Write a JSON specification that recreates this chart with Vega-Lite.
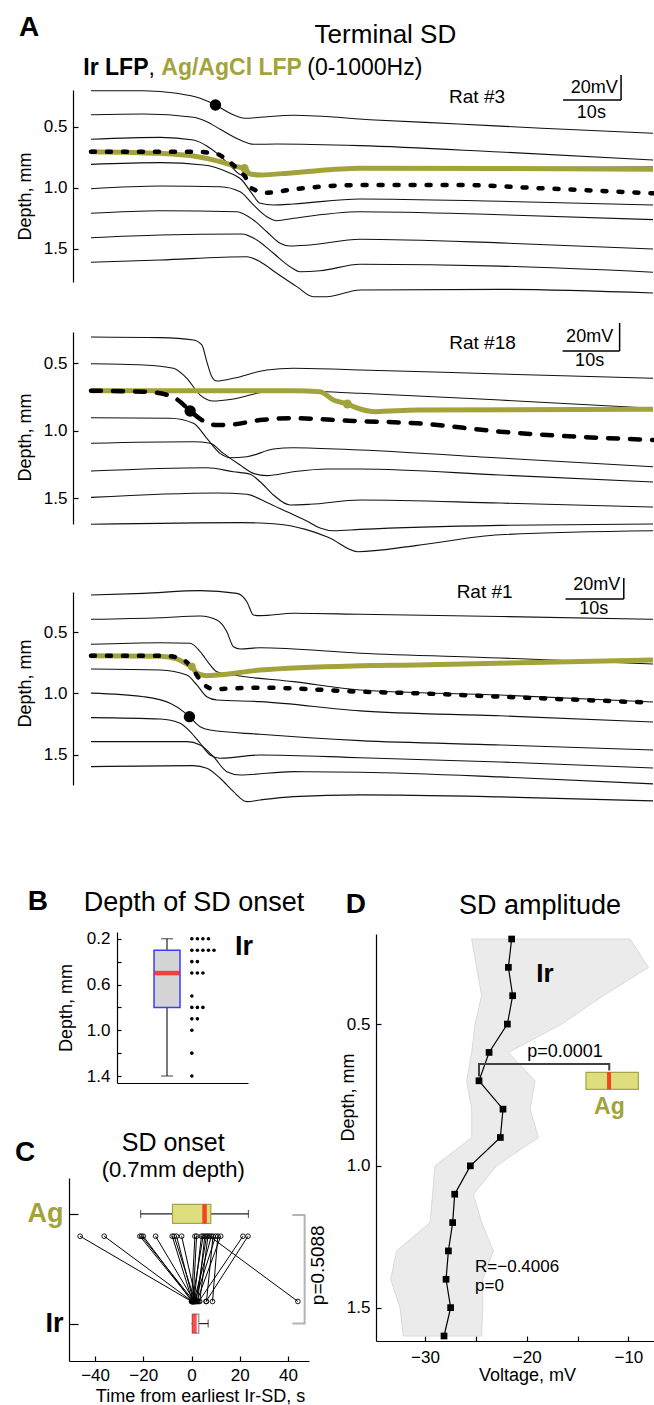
{
"$schema": "https://vega.github.io/schema/vega-lite/v6.json",
"padding": 0,
"bounds": "flush",
"spacing": 0,
"config": {
  "font": "Liberation Sans",
  "view": {"stroke": null},
  "concat": {"spacing": 0},
  "axis": {"labelFont": "Liberation Sans", "titleFont": "Liberation Sans", "labelFontSize": 17, "titleFontSize": 18, "titleFontWeight": "normal", "labelColor": "black", "titleColor": "black", "domainColor": "black", "tickColor": "black", "grid": false, "domainWidth": 1.2, "tickWidth": 1.2, "tickSize": -5, "labelPadding": 11, "labelFlush": false, "labelOverlap": false},
  "text": {"font": "Liberation Sans", "color": "black"}
},
"datasets": {
  "a1": [
    {"id":"0.2","t":0,"d":0.206},{"id":"0.2","t":9.05,"d":0.206},{"id":"0.2","t":14.81,"d":0.227},{"id":"0.2","t":18.83,"d":0.268},{"id":"0.2","t":21.47,"d":0.323},{"id":"0.2","t":24.0,"d":0.391},{"id":"0.2","t":26.59,"d":0.431},{"id":"0.2","t":29.17,"d":0.423},{"id":"0.2","t":34.91,"d":0.407},{"id":"0.2","t":49.0,"d":0.445},{"id":"0.2","t":63.31,"d":0.478},{"id":"0.2","t":77.74,"d":0.513},{"id":"0.2","t":96.93,"d":0.554},
    {"id":"0.4","t":0,"d":0.402},{"id":"0.4","t":9.05,"d":0.396},{"id":"0.4","t":17.67,"d":0.423},{"id":"0.4","t":19.98,"d":0.459},{"id":"0.4","t":22.28,"d":0.521},{"id":"0.4","t":25.72,"d":0.609},{"id":"0.4","t":28.02,"d":0.644},{"id":"0.4","t":32.05,"d":0.642},{"id":"0.4","t":46.41,"d":0.655},{"id":"0.4","t":70.55,"d":0.707},{"id":"0.4","t":96.93,"d":0.772},
    {"id":"0.6","t":0,"d":0.603},{"id":"0.6","t":11.93,"d":0.587},{"id":"0.6","t":17.67,"d":0.609},{"id":"0.6","t":19.98,"d":0.658},{"id":"0.6","t":22.28,"d":0.74},{"id":"0.6","t":24.29,"d":0.832},{"id":"0.6","t":26.02,"d":0.895},{"id":"0.6","t":29.17,"d":0.887},{"id":"0.6","t":46.41,"d":0.838},{"id":"0.6","t":96.93,"d":0.83},
    {"id":"0.8","t":0,"d":0.808},{"id":"0.8","t":11.93,"d":0.794},{"id":"0.8","t":19.4,"d":0.813},{"id":"0.8","t":23.43,"d":0.868},{"id":"0.8","t":26.02,"d":0.936},{"id":"0.8","t":27.74,"d":1.045},{"id":"0.8","t":29.17,"d":1.126},{"id":"0.8","t":31.47,"d":1.14},{"id":"0.8","t":34.91,"d":1.132},{"id":"0.8","t":46.41,"d":1.091},{"id":"0.8","t":70.55,"d":1.11},{"id":"0.8","t":96.93,"d":1.14},
    {"id":"1.0","t":0,"d":1.007},{"id":"1.0","t":11.93,"d":0.985},{"id":"1.0","t":22.28,"d":0.991},{"id":"1.0","t":25.72,"d":1.032},{"id":"1.0","t":28.02,"d":1.14},{"id":"1.0","t":30.33,"d":1.236},{"id":"1.0","t":32.05,"d":1.269},{"id":"1.0","t":34.91,"d":1.249},{"id":"1.0","t":46.41,"d":1.195},{"id":"1.0","t":70.55,"d":1.22},{"id":"1.0","t":96.93,"d":1.26},
    {"id":"1.2","t":0,"d":1.208},{"id":"1.2","t":11.93,"d":1.187},{"id":"1.2","t":25.16,"d":1.195},{"id":"1.2","t":28.02,"d":1.263},{"id":"1.2","t":30.33,"d":1.359},{"id":"1.2","t":32.62,"d":1.453},{"id":"1.2","t":34.34,"d":1.476},{"id":"1.2","t":37.79,"d":1.467},{"id":"1.2","t":46.41,"d":1.421},{"id":"1.2","t":70.55,"d":1.45},{"id":"1.2","t":96.93,"d":1.5},
    {"id":"1.4","t":0,"d":1.408},{"id":"1.4","t":11.93,"d":1.386},{"id":"1.4","t":26.02,"d":1.377},{"id":"1.4","t":28.6,"d":1.426},{"id":"1.4","t":31.47,"d":1.535},{"id":"1.4","t":34.34,"d":1.645},{"id":"1.4","t":36.07,"d":1.686},{"id":"1.4","t":39.52,"d":1.678},{"id":"1.4","t":46.41,"d":1.625},{"id":"1.4","t":70.55,"d":1.64},{"id":"1.4","t":96.93,"d":1.69},
    {"id":"1.6","t":0,"d":1.609},{"id":"1.6","t":11.93,"d":1.59},{"id":"1.6","t":26.88,"d":1.563},{"id":"1.6","t":29.17,"d":1.604},{"id":"1.6","t":32.05,"d":1.699},{"id":"1.6","t":35.5,"d":1.808},{"id":"1.6","t":38.36,"d":1.89},{"id":"1.6","t":40.67,"d":1.89},{"id":"1.6","t":46.41,"d":1.835},{"id":"1.6","t":70.55,"d":1.83},{"id":"1.6","t":96.93,"d":1.86},
    {"id":"g","t":0,"d":0.704},{"id":"g","t":11.93,"d":0.718},{"id":"g","t":17.67,"d":0.74},{"id":"g","t":22.28,"d":0.786},{"id":"g","t":25.16,"d":0.827},{"id":"g","t":26.47,"d":0.84},{"id":"g","t":27.45,"d":0.887},{"id":"g","t":29.17,"d":0.895},{"id":"g","t":34.91,"d":0.876},{"id":"g","t":46.41,"d":0.84},{"id":"g","t":70.55,"d":0.842},{"id":"g","t":96.93,"d":0.848},
    {"id":"ir","t":0,"d":0.704},{"id":"ir","t":17.67,"d":0.704},{"id":"ir","t":21.71,"d":0.723},{"id":"ir","t":23.43,"d":0.772},{"id":"ir","t":25.16,"d":0.84},{"id":"ir","t":26.59,"d":0.909},{"id":"ir","t":27.74,"d":1.004},{"id":"ir","t":30.33,"d":1.04},{"id":"ir","t":34.91,"d":1.012},{"id":"ir","t":46.41,"d":0.977},{"id":"ir","t":63.31,"d":0.977},{"id":"ir","t":77.74,"d":1.004},{"id":"ir","t":96.93,"d":1.045}
  ],
  "a2": [
    {"id":"0.3","t":0,"d":0.305},{"id":"0.3","t":11.93,"d":0.31},{"id":"0.3","t":17.67,"d":0.327},{"id":"0.3","t":19.12,"d":0.364},{"id":"0.3","t":19.98,"d":0.488},{"id":"0.3","t":20.84,"d":0.599},{"id":"0.3","t":21.71,"d":0.631},{"id":"0.3","t":24.57,"d":0.611},{"id":"0.3","t":30.33,"d":0.549},{"id":"0.3","t":34.91,"d":0.537},{"id":"0.3","t":46.41,"d":0.549},{"id":"0.3","t":70.55,"d":0.579},{"id":"0.3","t":96.93,"d":0.611},
    {"id":"0.5","t":0,"d":0.503},{"id":"0.5","t":9.05,"d":0.512},{"id":"0.5","t":14.22,"d":0.537},{"id":"0.5","t":16.53,"d":0.611},{"id":"0.5","t":18.83,"d":0.735},{"id":"0.5","t":21.12,"d":0.779},{"id":"0.5","t":24.57,"d":0.764},{"id":"0.5","t":30.33,"d":0.71},{"id":"0.5","t":34.91,"d":0.705},{"id":"0.5","t":46.41,"d":0.722},{"id":"0.5","t":70.55,"d":0.772},{"id":"0.5","t":96.93,"d":0.833},
    {"id":"0.9","t":0,"d":0.903},{"id":"0.9","t":13.66,"d":0.907},{"id":"0.9","t":17.67,"d":0.944},{"id":"0.9","t":19.98,"d":1.055},{"id":"0.9","t":22.28,"d":1.167},{"id":"0.9","t":24.0,"d":1.199},{"id":"0.9","t":26.88,"d":1.192},{"id":"0.9","t":31.47,"d":1.135},{"id":"0.9","t":34.91,"d":1.125},{"id":"0.9","t":46.41,"d":1.142},{"id":"0.9","t":70.55,"d":1.201},{"id":"0.9","t":96.93,"d":1.266},
    {"id":"1.1","t":0,"d":1.092},{"id":"1.1","t":17.67,"d":1.081},{"id":"1.1","t":20.55,"d":1.092},{"id":"1.1","t":22.84,"d":1.167},{"id":"1.1","t":25.72,"d":1.253},{"id":"1.1","t":28.02,"d":1.315},{"id":"1.1","t":30.33,"d":1.332},{"id":"1.1","t":34.91,"d":1.303},{"id":"1.1","t":40.67,"d":1.283},{"id":"1.1","t":46.41,"d":1.283},{"id":"1.1","t":70.55,"d":1.327},{"id":"1.1","t":96.93,"d":1.379},
    {"id":"1.3","t":0,"d":1.298},{"id":"1.3","t":19.98,"d":1.273},{"id":"1.3","t":24.57,"d":1.303},{"id":"1.3","t":27.45,"d":1.322},{"id":"1.3","t":29.17,"d":1.377},{"id":"1.3","t":31.47,"d":1.475},{"id":"1.3","t":34.34,"d":1.549},{"id":"1.3","t":37.79,"d":1.544},{"id":"1.3","t":46.41,"d":1.512},{"id":"1.3","t":70.55,"d":1.535},{"id":"1.3","t":96.93,"d":1.564},
    {"id":"1.5","t":0,"d":1.493},{"id":"1.5","t":21.71,"d":1.46},{"id":"1.5","t":26.88,"d":1.47},{"id":"1.5","t":30.33,"d":1.53},{"id":"1.5","t":33.8,"d":1.6},{"id":"1.5","t":37.3,"d":1.67},{"id":"1.5","t":39.5,"d":1.72},{"id":"1.5","t":41.8,"d":1.74},{"id":"1.5","t":46.41,"d":1.73},{"id":"1.5","t":70.55,"d":1.7},{"id":"1.5","t":96.93,"d":1.69},
    {"id":"1.7","t":0,"d":1.692},{"id":"1.7","t":26.0,"d":1.68},{"id":"1.7","t":32.0,"d":1.69},{"id":"1.7","t":37.0,"d":1.73},{"id":"1.7","t":41.0,"d":1.79},{"id":"1.7","t":46.0,"d":1.895},{"id":"1.7","t":56.0,"d":1.85},{"id":"1.7","t":70.55,"d":1.77},{"id":"1.7","t":96.93,"d":1.74},
    {"id":"g","t":0,"d":0.703},{"id":"g","t":34.91,"d":0.703},{"id":"g","t":39.52,"d":0.71},{"id":"g","t":41.81,"d":0.772},{"id":"g","t":44.22,"d":0.801},{"id":"g","t":45.26,"d":0.821},{"id":"g","t":49.0,"d":0.858},{"id":"g","t":56.19,"d":0.846},{"id":"g","t":96.93,"d":0.841},
    {"id":"ir","t":0,"d":0.703},{"id":"ir","t":9.05,"d":0.71},{"id":"ir","t":13.66,"d":0.74},{"id":"ir","t":15.38,"d":0.784},{"id":"ir","t":17.1,"d":0.853},{"id":"ir","t":19.4,"d":0.927},{"id":"ir","t":21.71,"d":0.957},{"id":"ir","t":24.57,"d":0.952},{"id":"ir","t":29.17,"d":0.92},{"id":"ir","t":34.91,"d":0.907},{"id":"ir","t":45.26,"d":0.927},{"id":"ir","t":56.19,"d":0.944},{"id":"ir","t":70.55,"d":1.006},{"id":"ir","t":96.93,"d":1.068}
  ],
  "a3": [
    {"id":"0.2","t":0,"d":0.197},{"id":"0.2","t":9.05,"d":0.184},{"id":"0.2","t":18.83,"d":0.162},{"id":"0.2","t":25.16,"d":0.184},{"id":"0.2","t":26.88,"d":0.252},{"id":"0.2","t":28.02,"d":0.361},{"id":"0.2","t":29.17,"d":0.366},{"id":"0.2","t":34.91,"d":0.347},{"id":"0.2","t":46.41,"d":0.355},{"id":"0.2","t":70.55,"d":0.373},{"id":"0.2","t":96.93,"d":0.396},
    {"id":"0.4","t":0,"d":0.396},{"id":"0.4","t":11.93,"d":0.383},{"id":"0.4","t":18.83,"d":0.369},{"id":"0.4","t":21.71,"d":0.402},{"id":"0.4","t":23.43,"d":0.497},{"id":"0.4","t":24.57,"d":0.62},{"id":"0.4","t":25.72,"d":0.638},{"id":"0.4","t":29.17,"d":0.628},{"id":"0.4","t":46.41,"d":0.673},{"id":"0.4","t":70.55,"d":0.712},{"id":"0.4","t":96.93,"d":0.761},
    {"id":"0.6","t":0,"d":0.6},{"id":"0.6","t":11.93,"d":0.587},{"id":"0.6","t":17.1,"d":0.592},{"id":"0.6","t":18.83,"d":0.66},{"id":"0.6","t":20.55,"d":0.769},{"id":"0.6","t":21.71,"d":0.824},{"id":"0.6","t":24.57,"d":0.851},{"id":"0.6","t":34.91,"d":0.905},{"id":"0.6","t":46.41,"d":0.973},{"id":"0.6","t":70.55,"d":1.014},{"id":"0.6","t":96.93,"d":1.071},
    {"id":"0.8","t":0,"d":0.802},{"id":"0.8","t":11.93,"d":0.81},{"id":"0.8","t":16.53,"d":0.851},{"id":"0.8","t":18.26,"d":0.932},{"id":"0.8","t":19.98,"d":1.028},{"id":"0.8","t":21.71,"d":1.055},{"id":"0.8","t":29.17,"d":1.068},{"id":"0.8","t":46.41,"d":1.144},{"id":"0.8","t":70.55,"d":1.184},{"id":"0.8","t":96.93,"d":1.234},
    {"id":"1.0","t":0,"d":0.999},{"id":"1.0","t":9.05,"d":1.028},{"id":"1.0","t":13.66,"d":1.082},{"id":"1.0","t":15.95,"d":1.15},{"id":"1.0","t":16.98,"d":1.191},{"id":"1.0","t":18.83,"d":1.273},{"id":"1.0","t":20.55,"d":1.3},{"id":"1.0","t":29.17,"d":1.335},{"id":"1.0","t":46.41,"d":1.387},{"id":"1.0","t":70.55,"d":1.422},{"id":"1.0","t":96.93,"d":1.463},
    {"id":"1.2","t":0,"d":1.199},{"id":"1.2","t":11.93,"d":1.21},{"id":"1.2","t":15.38,"d":1.245},{"id":"1.2","t":17.1,"d":1.313},{"id":"1.2","t":18.83,"d":1.408},{"id":"1.2","t":20.55,"d":1.504},{"id":"1.2","t":22.28,"d":1.531},{"id":"1.2","t":29.17,"d":1.504},{"id":"1.2","t":46.41,"d":1.526},{"id":"1.2","t":70.55,"d":1.561},{"id":"1.2","t":96.93,"d":1.61},
    {"id":"1.4","t":0,"d":1.395},{"id":"1.4","t":16.53,"d":1.395},{"id":"1.4","t":18.83,"d":1.422},{"id":"1.4","t":21.12,"d":1.517},{"id":"1.4","t":23.43,"d":1.64},{"id":"1.4","t":25.72,"d":1.667},{"id":"1.4","t":34.91,"d":1.64},{"id":"1.4","t":46.41,"d":1.645},{"id":"1.4","t":70.55,"d":1.683},{"id":"1.4","t":96.93,"d":1.74},
    {"id":"1.6","t":0,"d":1.599},{"id":"1.6","t":17.67,"d":1.591},{"id":"1.6","t":19.98,"d":1.612},{"id":"1.6","t":22.28,"d":1.694},{"id":"1.6","t":24.57,"d":1.803},{"id":"1.6","t":26.88,"d":1.885},{"id":"1.6","t":29.17,"d":1.871},{"id":"1.6","t":34.91,"d":1.844},{"id":"1.6","t":46.41,"d":1.83},{"id":"1.6","t":70.55,"d":1.846},{"id":"1.6","t":96.93,"d":1.879},
    {"id":"g","t":0,"d":0.693},{"id":"g","t":11.93,"d":0.698},{"id":"g","t":14.81,"d":0.72},{"id":"g","t":16.81,"d":0.769},{"id":"g","t":17.4,"d":0.783},{"id":"g","t":18.26,"d":0.837},{"id":"g","t":19.98,"d":0.856},{"id":"g","t":21.71,"d":0.851},{"id":"g","t":29.17,"d":0.81},{"id":"g","t":46.41,"d":0.775},{"id":"g","t":56.19,"d":0.769},{"id":"g","t":96.93,"d":0.728},
    {"id":"ir","t":0,"d":0.693},{"id":"ir","t":11.93,"d":0.693},{"id":"ir","t":14.81,"d":0.706},{"id":"ir","t":16.53,"d":0.747},{"id":"ir","t":17.67,"d":0.81},{"id":"ir","t":18.83,"d":0.891},{"id":"ir","t":19.98,"d":0.946},{"id":"ir","t":21.12,"d":0.965},{"id":"ir","t":29.17,"d":0.954},{"id":"ir","t":46.41,"d":0.987},{"id":"ir","t":56.19,"d":1.0},{"id":"ir","t":70.55,"d":1.028},{"id":"ir","t":96.93,"d":1.077}
  ],
  "bdots": [
    {"x":12.6,"d":0.2},{"x":13.6,"d":0.2},{"x":14.6,"d":0.2},{"x":15.6,"d":0.2},
    {"x":12.6,"d":0.3},{"x":13.6,"d":0.3},{"x":14.6,"d":0.3},{"x":15.6,"d":0.3},{"x":16.6,"d":0.3},
    {"x":12.6,"d":0.4},{"x":13.6,"d":0.4},
    {"x":12.6,"d":0.5},{"x":13.6,"d":0.5},{"x":14.6,"d":0.5},
    {"x":12.6,"d":0.7},
    {"x":12.6,"d":0.8},{"x":13.6,"d":0.8},{"x":14.6,"d":0.8},
    {"x":12.6,"d":0.9},{"x":13.6,"d":0.9},
    {"x":12.6,"d":1.0},{"x":12.6,"d":1.2},{"x":12.6,"d":1.4}
  ],
  "pairs": [
    {"p":1,"t":-46.2,"y":2.39},{"p":1,"t":0.0,"y":0.605},
    {"p":2,"t":-36.2,"y":2.39},{"p":2,"t":0.3,"y":0.605},
    {"p":3,"t":-21.4,"y":2.39},{"p":3,"t":0.5,"y":0.605},
    {"p":4,"t":-20.7,"y":2.39},{"p":4,"t":1.0,"y":0.605},
    {"p":5,"t":-20.0,"y":2.39},{"p":5,"t":0.2,"y":0.605},
    {"p":6,"t":-14.9,"y":2.39},{"p":6,"t":1.2,"y":0.605},
    {"p":7,"t":-8.0,"y":2.39},{"p":7,"t":0.4,"y":0.605},
    {"p":8,"t":-7.2,"y":2.39},{"p":8,"t":1.5,"y":0.605},
    {"p":9,"t":-6.2,"y":2.39},{"p":9,"t":0.8,"y":0.605},
    {"p":10,"t":-4.1,"y":2.39},{"p":10,"t":2.0,"y":0.605},
    {"p":11,"t":1.4,"y":2.39},{"p":11,"t":0.0,"y":0.605},
    {"p":12,"t":2.1,"y":2.39},{"p":12,"t":0.6,"y":0.605},
    {"p":13,"t":4.1,"y":2.39},{"p":13,"t":1.0,"y":0.605},
    {"p":14,"t":4.8,"y":2.39},{"p":14,"t":0.3,"y":0.605},
    {"p":15,"t":5.5,"y":2.39},{"p":15,"t":2.5,"y":0.605},
    {"p":16,"t":6.2,"y":2.39},{"p":16,"t":1.8,"y":0.605},
    {"p":17,"t":6.8,"y":2.39},{"p":17,"t":3.4,"y":0.605},
    {"p":18,"t":7.5,"y":2.39},{"p":18,"t":44.1,"y":0.605},
    {"p":19,"t":8.2,"y":2.39},{"p":19,"t":0.9,"y":0.605},
    {"p":20,"t":8.9,"y":2.39},{"p":20,"t":6.2,"y":0.605},
    {"p":21,"t":10.0,"y":2.39},{"p":21,"t":1.3,"y":0.605},
    {"p":22,"t":10.9,"y":2.39},{"p":22,"t":8.7,"y":0.605},
    {"p":23,"t":12.1,"y":2.39},{"p":23,"t":2.2,"y":0.605},
    {"p":24,"t":21.3,"y":2.39},{"p":24,"t":3.0,"y":0.605},
    {"p":25,"t":23.4,"y":2.39},{"p":25,"t":6.0,"y":0.605}
  ],
  "dmean": [
    {"d":0.2,"v":-21.48},{"d":0.3,"v":-21.8},{"d":0.4,"v":-21.38},{"d":0.5,"v":-21.9},{"d":0.6,"v":-23.7},{"d":0.7,"v":-24.69},{"d":0.8,"v":-22.33},{"d":0.9,"v":-22.59},{"d":1.0,"v":-25.54},{"d":1.1,"v":-27.08},{"d":1.2,"v":-27.28},{"d":1.3,"v":-27.7},{"d":1.4,"v":-27.93},{"d":1.5,"v":-27.48},{"d":1.6,"v":-28.13}
  ],
  "dband": [
    {"d":0.2,"v":-25.41,"v2":-9.84},{"d":0.3,"v":-24.92,"v2":-8.03},{"d":0.4,"v":-24.43,"v2":-12.46},{"d":0.5,"v":-25.08,"v2":-16.56},{"d":0.6,"v":-25.41,"v2":-21.8},{"d":0.7,"v":-25.9,"v2":-19.18},{"d":0.8,"v":-25.41,"v2":-19.67},{"d":0.9,"v":-25.41,"v2":-18.85},{"d":1.0,"v":-29.02,"v2":-22.95},{"d":1.1,"v":-29.25,"v2":-25.25},{"d":1.2,"v":-29.51,"v2":-24.43},{"d":1.3,"v":-32.79,"v2":-23.28},{"d":1.4,"v":-33.38,"v2":-24.33},{"d":1.5,"v":-32.46,"v2":-24.33},{"d":1.6,"v":-32.13,"v2":-24.43}
  ]
},
"vconcat": [
  {
    "width": 654, "height": 282,
    "encoding": {
      "x": {"field": "t", "type": "quantitative", "scale": {"domain": [-3.1, 97.1], "range": [73, 654], "nice": false, "zero": false}, "axis": null},
      "y": {"field": "d", "type": "quantitative", "scale": {"domain": [0.2, 1.77], "range": [90, 282], "nice": false, "zero": false}, "axis": {"values": [0.5, 1, 1.5], "format": ".1f", "title": "Depth, mm", "offset": -73, "titleY": 196, "titlePadding": 9}}
    },
    "layer": [
      {"data": {"name": "a1"}, "transform": [{"filter": "datum.id != 'g' && datum.id != 'ir'"}], "mark": {"type": "line", "interpolate": "monotone", "color": "#111111", "strokeWidth": 1.1}, "encoding": {"detail": {"field": "id"}}},
      {"data": {"name": "a1"}, "transform": [{"filter": "datum.id == 'g'"}], "mark": {"type": "line", "interpolate": "monotone", "color": "#a3a33c", "strokeWidth": 5}},
      {"data": {"name": "a1"}, "transform": [{"filter": "datum.id == 'ir'"}], "mark": {"type": "line", "interpolate": "monotone", "color": "#000000", "strokeWidth": 4.5, "strokeDash": [4, 12], "strokeCap": "round"}},
      {"data": {"values": [{"t": 26.47, "d": 0.84}]}, "mark": {"type": "circle", "size": 70, "color": "#a3a33c", "opacity": 1}},
      {"data": {"values": [{"t": 21.47, "d": 0.323}]}, "mark": {"type": "circle", "size": 130, "color": "#000000", "opacity": 1}},
      {"data": {"values": [{"t": 91.42, "d": 0.077, "t2": 91.42, "d2": 0.282}, {"t": 81.42, "d": 0.282, "t2": 91.42, "d2": 0.282}]}, "mark": {"type": "rule", "color": "black", "strokeWidth": 1.5}, "encoding": {"x2": {"field": "t2"}, "y2": {"field": "d2"}}},
      {"data": {"values": [{"t": 86.8, "d": 0.184, "txt": "20mV"}, {"t": 86.3, "d": 0.388, "txt": "10s"}]}, "mark": {"type": "text", "fontSize": 18, "align": "center", "baseline": "middle"}, "encoding": {"text": {"field": "txt"}}},
      {"data": {"values": [{"t": 66.58, "d": 0.257, "txt": "Rat #3"}]}, "mark": {"type": "text", "fontSize": 19, "align": "center", "baseline": "middle"}, "encoding": {"text": {"field": "txt"}}},
      {"data": {"values": [{"t": -10.69, "d": -0.31, "txt": "A"}]}, "mark": {"type": "text", "fontSize": 28, "fontWeight": "bold", "align": "center", "baseline": "middle"}, "encoding": {"text": {"field": "txt"}}},
      {"data": {"values": [{"t": 50.78, "d": -0.25, "txt": "Terminal SD"}]}, "mark": {"type": "text", "fontSize": 26, "align": "center", "baseline": "middle"}, "encoding": {"text": {"field": "txt"}}},
      {"data": {"values": [{"t": -1.32, "d": 0.0226, "txt": "Ir LFP"}]}, "mark": {"type": "text", "fontSize": 23, "fontWeight": "bold", "align": "left", "baseline": "middle"}, "encoding": {"text": {"field": "txt"}}},
      {"data": {"values": [{"t": 9.92, "d": 0.0226, "txt": ","}, {"t": 37.3, "d": 0.0226, "txt": "(0-1000Hz)"}]}, "mark": {"type": "text", "fontSize": 23, "align": "left", "baseline": "middle"}, "encoding": {"text": {"field": "txt"}}},
      {"data": {"values": [{"t": 12.13, "d": 0.0226, "txt": "Ag/AgCl LFP"}]}, "mark": {"type": "text", "fontSize": 23, "fontWeight": "bold", "color": "#a3a33c", "align": "left", "baseline": "middle"}, "encoding": {"text": {"field": "txt"}}}
    ]
  },
  {
    "width": 654, "height": 242,
    "encoding": {
      "x": {"field": "t", "type": "quantitative", "scale": {"domain": [-3.1, 97.1], "range": [73, 654], "nice": false, "zero": false}, "axis": null},
      "y": {"field": "d", "type": "quantitative", "scale": {"domain": [0.268, 1.69], "range": [50, 242], "nice": false, "zero": false}, "axis": {"values": [0.5, 1, 1.5], "format": ".1f", "title": "Depth, mm", "offset": -73, "titleY": 155, "titlePadding": 9}}
    },
    "layer": [
      {"data": {"name": "a2"}, "transform": [{"filter": "datum.id != 'g' && datum.id != 'ir'"}], "mark": {"type": "line", "interpolate": "monotone", "color": "#111111", "strokeWidth": 1.1}, "encoding": {"detail": {"field": "id"}}},
      {"data": {"name": "a2"}, "transform": [{"filter": "datum.id == 'g'"}], "mark": {"type": "line", "interpolate": "monotone", "color": "#a3a33c", "strokeWidth": 5}},
      {"data": {"name": "a2"}, "transform": [{"filter": "datum.id == 'ir'"}], "mark": {"type": "line", "interpolate": "monotone", "color": "#000000", "strokeWidth": 4.5, "strokeDash": [10, 12], "strokeCap": "round"}},
      {"data": {"values": [{"t": 44.22, "d": 0.801}]}, "mark": {"type": "circle", "size": 80, "color": "#a3a33c", "opacity": 1}},
      {"data": {"values": [{"t": 17.1, "d": 0.853}]}, "mark": {"type": "circle", "size": 130, "color": "#000000", "opacity": 1}},
      {"data": {"values": [{"t": 91.17, "d": 0.201, "t2": 91.17, "d2": 0.409}, {"t": 81.33, "d": 0.409, "t2": 91.17, "d2": 0.409}]}, "mark": {"type": "rule", "color": "black", "strokeWidth": 1.5}, "encoding": {"x2": {"field": "t2"}, "y2": {"field": "d2"}}},
      {"data": {"values": [{"t": 86.0, "d": 0.305, "txt": "20mV"}, {"t": 86.0, "d": 0.483, "txt": "10s"}]}, "mark": {"type": "text", "fontSize": 18, "align": "center", "baseline": "middle"}, "encoding": {"text": {"field": "txt"}}},
      {"data": {"values": [{"t": 67.53, "d": 0.352, "txt": "Rat #18"}]}, "mark": {"type": "text", "fontSize": 19, "align": "center", "baseline": "middle"}, "encoding": {"text": {"field": "txt"}}}
    ]
  },
  {
    "width": 654, "height": 261,
    "encoding": {
      "x": {"field": "t", "type": "quantitative", "scale": {"domain": [-3.1, 97.1], "range": [73, 654], "nice": false, "zero": false}, "axis": null},
      "y": {"field": "d", "type": "quantitative", "scale": {"domain": [0.173, 1.749], "range": [68, 261], "nice": false, "zero": false}, "axis": {"values": [0.5, 1, 1.5], "format": ".1f", "title": "Depth, mm", "offset": -73, "titleY": 159, "titlePadding": 9}}
    },
    "layer": [
      {"data": {"name": "a3"}, "transform": [{"filter": "datum.id != 'g' && datum.id != 'ir'"}], "mark": {"type": "line", "interpolate": "monotone", "color": "#111111", "strokeWidth": 1.1}, "encoding": {"detail": {"field": "id"}}},
      {"data": {"name": "a3"}, "transform": [{"filter": "datum.id == 'g'"}], "mark": {"type": "line", "interpolate": "monotone", "color": "#a3a33c", "strokeWidth": 5}},
      {"data": {"name": "a3"}, "transform": [{"filter": "datum.id == 'ir'"}], "mark": {"type": "line", "interpolate": "monotone", "color": "#000000", "strokeWidth": 4.5, "strokeDash": [4, 12], "strokeCap": "round"}},
      {"data": {"values": [{"t": 17.4, "d": 0.783}]}, "mark": {"type": "circle", "size": 60, "color": "#a3a33c", "opacity": 1}},
      {"data": {"values": [{"t": 16.98, "d": 1.191}]}, "mark": {"type": "circle", "size": 130, "color": "#000000", "opacity": 1}},
      {"data": {"values": [{"t": 91.89, "d": 0.059, "t2": 91.89, "d2": 0.23}, {"t": 81.83, "d": 0.23, "t2": 91.89, "d2": 0.23}]}, "mark": {"type": "rule", "color": "black", "strokeWidth": 1.5}, "encoding": {"x2": {"field": "t2"}, "y2": {"field": "d2"}}},
      {"data": {"values": [{"t": 87.22, "d": 0.116, "txt": "20mV"}, {"t": 86.72, "d": 0.312, "txt": "10s"}]}, "mark": {"type": "text", "fontSize": 18, "align": "center", "baseline": "middle"}, "encoding": {"text": {"field": "txt"}}},
      {"data": {"values": [{"t": 67.89, "d": 0.173, "txt": "Rat #1"}]}, "mark": {"type": "text", "fontSize": 19, "align": "center", "baseline": "middle"}, "encoding": {"text": {"field": "txt"}}}
    ]
  },
  {
    "width": 654, "height": 298,
    "resolve": {"scale": {"x": "independent", "y": "independent"}, "axis": {"x": "independent", "y": "independent"}},
    "layer": [
      {
        "encoding": {
          "x": {"field": "x", "type": "quantitative", "scale": {"domain": [0, 21.83], "range": [117, 248], "nice": false, "zero": false}, "axis": {"orient": "bottom", "ticks": false, "labels": false, "title": null}},
          "y": {"field": "d", "type": "quantitative", "scale": {"domain": [0.141, 1.461], "range": [147, 298], "nice": false, "zero": false}, "axis": {"orient": "left", "values": [0.2, 0.4, 0.6, 0.8, 1.0, 1.2, 1.4], "labelExpr": "round(datum.value*10) % 4 == 2 ? format(datum.value, '.1f') : ''", "title": "Depth, mm", "offset": -117, "tickSize": -4, "labelPadding": 11, "titlePadding": 11}}
        },
        "layer": [
          {"data": {"values": [{"x": 8.12, "d": 0.2, "d2": 1.4}]}, "mark": {"type": "rule", "color": "#222222", "strokeWidth": 1.2}, "encoding": {"y2": {"field": "d2"}}},
          {"data": {"values": [{"x": 8.12, "d": 0.2}, {"x": 8.12, "d": 1.4}]}, "mark": {"type": "tick", "orient": "horizontal", "size": 12, "thickness": 1.2, "color": "#222222"}},
          {"data": {"values": [{"x": 8.12, "d": 0.3, "d2": 0.8}]}, "mark": {"type": "bar", "size": 26, "fill": "#d4d4d4", "stroke": "#3c3cff", "strokeWidth": 1.5}, "encoding": {"y2": {"field": "d2"}}},
          {"data": {"values": [{"x": 8.12, "d": 0.5}]}, "mark": {"type": "tick", "orient": "horizontal", "size": 25, "thickness": 4.5, "color": "#ff0000"}},
          {"data": {"name": "bdots"}, "mark": {"type": "circle", "size": 13, "color": "#000000", "opacity": 1}},
          {"data": {"values": [{"x": 22.0, "d": 0.273, "txt": "Ir"}]}, "mark": {"type": "text", "fontSize": 27, "fontWeight": "bold", "align": "center", "baseline": "middle"}, "encoding": {"text": {"field": "txt"}}},
          {"data": {"values": [{"x": 13.0, "d": -0.115, "txt": "Depth of SD onset"}]}, "mark": {"type": "text", "fontSize": 27, "align": "center", "baseline": "middle"}, "encoding": {"text": {"field": "txt"}}},
          {"data": {"values": [{"x": -15.17, "d": -0.124, "txt": "B"}]}, "mark": {"type": "text", "fontSize": 28, "fontWeight": "bold", "align": "center", "baseline": "middle"}, "encoding": {"text": {"field": "txt"}}}
        ]
      },
      {
        "encoding": {
          "x": {"field": "v", "type": "quantitative", "scale": {"domain": [-34.82, -7.48], "range": [376, 654], "nice": false, "zero": false}, "axis": {"orient": "bottom", "offset": 258, "values": [-30, -25, -20, -15, -10], "labelExpr": "datum.value % 10 == 0 ? datum.label : ''", "title": "Voltage, mV", "labelPadding": 13, "titlePadding": 1, "titleX": 527}},
          "y": {"field": "d", "type": "quantitative", "scale": {"domain": [0.2, 1.6], "range": [149, 556], "nice": false, "zero": false}, "axis": {"orient": "left", "offset": -376, "values": [0.5, 1, 1.5], "format": ".1f", "title": "Depth, mm", "titlePadding": -11, "titleY": 312}}
        },
        "layer": [
          {"data": {"name": "dband"}, "mark": {"type": "area", "orient": "horizontal", "fill": "#ebebeb", "stroke": "#dadada", "strokeWidth": 1}, "encoding": {"x2": {"field": "v2"}}},
          {"data": {"name": "dmean"}, "mark": {"type": "line", "color": "#000000", "strokeWidth": 1.2}, "encoding": {"order": {"field": "d"}}},
          {"data": {"name": "dmean"}, "mark": {"type": "point", "shape": "square", "filled": true, "size": 45, "color": "#000000", "opacity": 1}},
          {"data": {"values": [{"o": 1, "v": -24.69, "d": 0.685}, {"o": 2, "v": -24.69, "d": 0.641}, {"o": 3, "v": -11.88, "d": 0.641}, {"o": 4, "v": -11.88, "d": 0.664}]}, "mark": {"type": "line", "color": "#404040", "strokeWidth": 2}, "encoding": {"order": {"field": "o"}}},
          {"data": {"values": [{"v": -14.17, "v2": -9.02, "d": 0.7}]}, "mark": {"type": "bar", "size": 17, "fill": "#dede7e", "stroke": "#a5a548", "strokeWidth": 1.2}, "encoding": {"x2": {"field": "v2"}}},
          {"data": {"values": [{"v": -11.9, "d": 0.7}]}, "mark": {"type": "tick", "orient": "vertical", "size": 17, "thickness": 4, "color": "#ff0000"}},
          {"data": {"values": [{"v": -16.23, "d": 0.599, "txt": "p=0.0001"}]}, "mark": {"type": "text", "fontSize": 18, "align": "center", "baseline": "middle"}, "encoding": {"text": {"field": "txt"}}},
          {"data": {"values": [{"v": -25.08, "d": 1.357, "txt": "R=−0.4006"}, {"v": -25.08, "d": 1.422, "txt": "p=0"}]}, "mark": {"type": "text", "fontSize": 17, "align": "left", "baseline": "middle"}, "encoding": {"text": {"field": "txt"}}},
          {"data": {"values": [{"v": -18.2, "d": 0.324, "txt": "Ir"}]}, "mark": {"type": "text", "fontSize": 26, "fontWeight": "bold", "align": "center", "baseline": "middle"}, "encoding": {"text": {"field": "txt"}}},
          {"data": {"values": [{"v": -11.87, "d": 0.794, "txt": "Ag"}]}, "mark": {"type": "text", "fontSize": 23, "fontWeight": "bold", "color": "#a3a33c", "align": "center", "baseline": "middle"}, "encoding": {"text": {"field": "txt"}}},
          {"data": {"values": [{"v": -18.69, "d": 0.083, "txt": "SD amplitude"}]}, "mark": {"type": "text", "fontSize": 27, "align": "center", "baseline": "middle"}, "encoding": {"text": {"field": "txt"}}},
          {"data": {"values": [{"v": -36.8, "d": 0.0796, "txt": "D"}]}, "mark": {"type": "text", "fontSize": 28, "fontWeight": "bold", "align": "center", "baseline": "middle"}, "encoding": {"text": {"field": "txt"}}}
        ]
      }
    ]
  },
  {
    "width": 376, "height": 278,
    "encoding": {
      "x": {"field": "t", "type": "quantitative", "scale": {"domain": [-50.8, 48.7], "range": [69, 309], "nice": false, "zero": false}, "axis": {"values": [-40, -20, 0, 20, 40], "title": "Time from earliest Ir-SD, s", "labelPadding": 11, "titlePadding": 4, "titleX": 200}},
      "y": {"field": "y", "type": "quantitative", "scale": {"domain": [-0.887, 3.846], "range": [278, 95], "nice": false, "zero": false}, "axis": {"values": [0, 3], "labelExpr": "datum.value == 3 ? 'Ag' : 'Ir'", "labelColor": {"condition": {"test": "datum.value == 3", "value": "#a3a33c"}, "value": "black"}, "labelFontSize": 27, "labelFontWeight": "bold", "title": null, "offset": -69, "tickSize": -9, "labelPadding": 15}}
    },
    "layer": [
      {"data": {"name": "pairs"}, "mark": {"type": "line", "color": "#000000", "strokeWidth": 1}, "encoding": {"detail": {"field": "p"}, "order": {"field": "y"}}},
      {"data": {"name": "pairs"}, "mark": {"type": "point", "shape": "circle", "filled": false, "size": 22, "stroke": "#000000", "strokeWidth": 0.9, "opacity": 1}},
      {"data": {"values": [{"t": -21.1, "t2": 23.6, "y": 3}, {"t": 0, "t2": 6.9, "y": 0}]}, "mark": {"type": "rule", "color": "#222222", "strokeWidth": 1.2}, "encoding": {"x2": {"field": "t2"}}},
      {"data": {"values": [{"t": -21.1, "y": 3}, {"t": 23.6, "y": 3}, {"t": 6.9, "y": 0}]}, "mark": {"type": "tick", "orient": "vertical", "size": 8, "thickness": 1.2, "color": "#222222"}},
      {"data": {"values": [{"t": -7.9, "t2": 8.0, "y": 3}]}, "mark": {"type": "bar", "size": 19, "fill": "#dede7e", "stroke": "#a5a548", "strokeWidth": 1.2}, "encoding": {"x2": {"field": "t2"}}},
      {"data": {"values": [{"t": 0.3, "t2": 3.0, "y": 0}]}, "mark": {"type": "bar", "size": 19, "fill": "#ffffff", "stroke": "#888888", "strokeWidth": 1.2}, "encoding": {"x2": {"field": "t2"}}},
      {"data": {"values": [{"t": 5.4, "y": 3}, {"t": 1.2, "y": 0}]}, "mark": {"type": "tick", "orient": "vertical", "size": 19, "thickness": 4.5, "color": "#ff0000"}},
      {"data": {"values": [{"o": 1, "t": 41.8, "y": 2.97}, {"o": 2, "t": 46.9, "y": 2.97}, {"o": 3, "t": 46.9, "y": 0}, {"o": 4, "t": 41.8, "y": 0}]}, "mark": {"type": "line", "color": "#b4b4b4", "strokeWidth": 2}, "encoding": {"order": {"field": "o"}}},
      {"data": {"values": [{"t": 52.27, "y": 1.596, "txt": "p=0.5088"}]}, "mark": {"type": "text", "fontSize": 19, "angle": 270, "align": "center", "baseline": "middle"}, "encoding": {"text": {"field": "txt"}}},
      {"data": {"values": [{"t": -68.97, "y": 4.673, "txt": "C"}]}, "mark": {"type": "text", "fontSize": 28, "fontWeight": "bold", "align": "center", "baseline": "middle"}, "encoding": {"text": {"field": "txt"}}},
      {"data": {"values": [{"t": -7.6, "y": 4.93, "txt": "SD onset"}]}, "mark": {"type": "text", "fontSize": 25, "align": "center", "baseline": "middle"}, "encoding": {"text": {"field": "txt"}}},
      {"data": {"values": [{"t": -7.6, "y": 4.215, "txt": "(0.7mm depth)"}]}, "mark": {"type": "text", "fontSize": 22, "align": "center", "baseline": "middle"}, "encoding": {"text": {"field": "txt"}}}
    ]
  }
]
}
